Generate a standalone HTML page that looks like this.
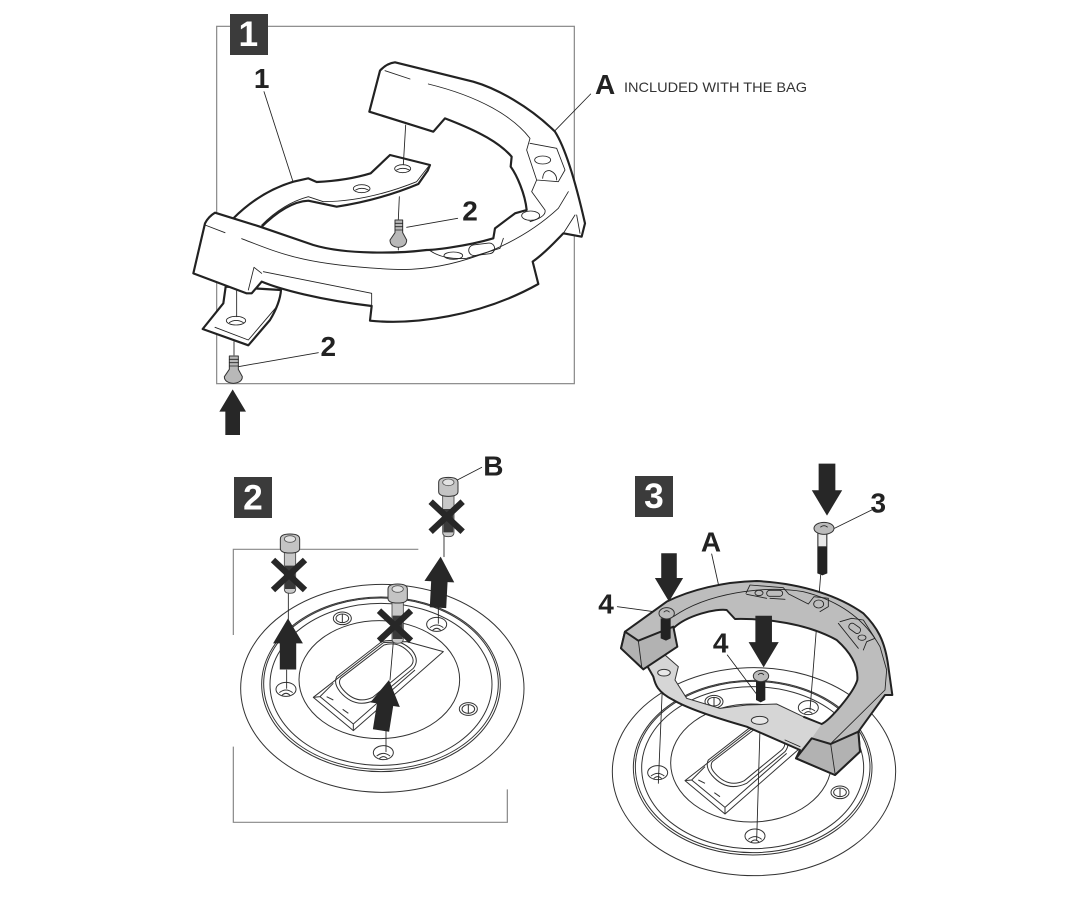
<!DOCTYPE html>
<html><head><meta charset="utf-8">
<style>
html,body{margin:0;padding:0;background:#fff}
svg{display:block}
text{font-family:"Liberation Sans",sans-serif;font-weight:bold;fill:#222}
.t{fill:none;stroke:#222;stroke-width:2.6;stroke-linejoin:round;stroke-linecap:round}
.o{stroke:#222;stroke-width:6.5;stroke-linejoin:round;fill:#fff}
.f{fill:none;stroke:#888;stroke-width:3.6}
.e{fill:none;stroke:#333;stroke-width:3}
.b{fill:#3b3b3b}
.n{fill:#fff;text-anchor:middle}
</style></head><body>
<svg width="1080" height="909" viewBox="0 0 1080 909" xmlns="http://www.w3.org/2000/svg">
<defs>
<path id="up" fill="#272727" d="M0 0L40 67H22V137H-22V67H-40Z"/>
<g id="sock">
<path d="M-17 50H17V165Q17 178 0 178Q-17 178-17 165Z" fill="#c8c8c8" stroke="#444" stroke-width="2.5"/>
<path d="M-15 95H15V165H-15Z" fill="#3a3a3a"/>
<path d="M-29 15Q-29 0 0 0Q29 0 29 15V43Q29 57 0 57Q-29 57-29 43Z" fill="#c4c4c4" stroke="#333" stroke-width="3"/>
<ellipse cx="0" cy="15" rx="17" ry="10" fill="#e2e2e2" stroke="#555" stroke-width="2.5"/>
</g>
<path id="x" stroke="#272727" stroke-width="19" fill="none" d="M-48-45L48 45M48-45L-48 45"/>
<g id="hole" fill="#fff" stroke="#333" stroke-width="3"><ellipse rx="30" ry="21"/><path d="M-20 10Q0-6 20 10M-12 18Q0 6 12 18" fill="none"/></g>
<g id="bolt" fill="#fff" stroke="#333" stroke-width="3"><ellipse rx="27" ry="19"/><ellipse rx="19" ry="13"/><path d="M0-13V13" /></g>
<g id="tank">
<ellipse class="e" cx="487" cy="715" rx="425" ry="312"/>
<ellipse class="e" cx="483" cy="703" rx="358" ry="262"/>
<ellipse class="e" cx="483" cy="701" rx="352" ry="257"/>
<ellipse class="e" cx="483" cy="703" rx="333" ry="243"/>
<ellipse class="e" cx="478" cy="689" rx="241" ry="177"/>
<path fill="#fff" stroke="#333" stroke-width="3" stroke-linejoin="round" d="M280 742L490 578L560 575L670 605L400 842Z"/>
<path class="e" d="M350 680L485 575Q535 562 575 600Q600 630 580 655L465 750Q405 778 360 725Q340 700 350 680Z"/>
<path class="e" d="M362 685L492 585Q535 572 567 607Q590 632 570 650L458 742Q410 765 370 720Q352 700 362 685Z"/>
<path class="e" d="M280 742L300 740L340 700M300 740L400 822L585 660M400 822V842"/>
<path class="e" d="M320 740L340 750M368 778L385 790"/>
<use href="#hole" x="198" y="718"/><use href="#hole" x="490" y="908"/><use href="#hole" x="650" y="523"/>
<use href="#bolt" x="367" y="505"/><use href="#bolt" x="745" y="777"/>
</g>
</defs>

<!-- Panel 1 -->
<g transform="translate(180,10) scale(.33333)">
<rect class="f" x="110" y="49" width="1073" height="1072"/>
<rect class="b" x="150" y="12" width="114" height="123"/>
<text class="n" x="205" y="108" font-size="106">1</text>
<path class="t" d="M252 245L338 512M658 560L655 628M1122 365L1232 252M162 995V1035"/>
<!-- back plate -->
<path class="o" d="M160 625Q240 545 340 515L385 505L410 516Q500 512 572 490L630 435L750 465L743 482L715 522Q600 570 470 590L385 572Q320 575 240 655Z"/>
<path class="t" d="M245 645Q310 580 385 560L430 575Q560 575 710 515L745 470"/>
<ellipse class="t" cx="668" cy="476" rx="24" ry="12"/><path class="t" d="M650 480Q668 470 688 480"/>
<ellipse class="t" cx="545" cy="536" rx="25" ry="12"/><path class="t" d="M527 540Q545 530 565 540"/>
<path class="t" d="M677 345L670 464"/>
<!-- lower left plate -->
<path class="o" d="M137 830L130 880L68 957L205 1006L270 930Q300 880 303 840Z"/>
<path class="t" d="M105 952L205 990L290 890"/>
<ellipse class="t" cx="168" cy="932" rx="29" ry="13"/><path class="t" d="M148 938Q168 925 190 938"/>
<path class="t" d="M170 840V920"/>
<!-- ring -->
<path class="o" d="M105 608Q85 620 75 640L40 790L200 850H215L245 815C300 838 420 870 575 888L570 932C700 945 900 920 1075 822L1058 755C1100 725 1130 690 1150 670L1205 680L1215 640C1190 530 1160 420 1125 365C1050 290 950 235 880 215L645 157Q620 160 600 182L568 305L760 365L795 325C900 365 960 400 995 440L992 470C1010 495 1035 550 1040 600L1005 610L945 655L940 685C850 712 750 720 740 720C660 730 500 735 400 705L240 650Z"/>
<path class="t" d="M75 645L135 668M185 686C300 730 370 765 640 778C800 785 1000 720 1135 595L1165 545M615 182L690 207M745 222C900 260 1000 320 1050 385L1040 420L1070 510L1055 545L1095 600Q1100 620 1050 635M1050 400L1130 415L1155 480L1135 515L1070 510M250 785L575 850V888M222 772L245 790M222 772L205 840M1185 615L1150 670M1190 615L1200 670"/>
<ellipse class="t" cx="1088" cy="450" rx="24" ry="12"/>
<path class="t" d="M1088 505Q1090 480 1110 482Q1130 490 1130 510"/>
<ellipse class="t" cx="1052" cy="617" rx="27" ry="14"/>
<rect class="t" x="866" y="702" width="78" height="32" rx="16" transform="rotate(-7 905 718)"/>
<ellipse class="t" cx="820" cy="737" rx="28" ry="11"/>
<path class="t" d="M750 722Q790 750 860 745L960 715L970 685"/>
<!-- screws -->
<path class="t" d="M680 652L833 625M175 1070L415 1028M655 705V720"/>
<g fill="#b8b8b8" stroke="#333" stroke-width="3" stroke-linejoin="round">
<path d="M645 630H668V668L680 690Q680 710 655 712Q630 710 630 690L645 668Z"/>
<path d="M148 1038H175V1078L187 1100Q187 1118 160 1120Q133 1118 133 1100L148 1078Z"/>
</g>
<path class="t" d="M645 640H668M645 650H668M645 660H668M148 1048H175M148 1058H175M148 1068H175"/>
<text x="870" y="632" font-size="84" text-anchor="middle">2</text>
<text x="445" y="1038" font-size="84" text-anchor="middle">2</text>
<text x="245" y="234" font-size="84" text-anchor="middle">1</text>
<use href="#up" x="158" y="1138"/>
</g>
<text x="595" y="94" font-size="28">A</text>
<text x="624" y="92" font-size="14" textLength="183" lengthAdjust="spacingAndGlyphs" style="font-weight:normal;fill:#333">INCLUDED WITH THE BAG</text>

<!-- Panel 2 -->
<g transform="translate(220,450) scale(.33333)">
<path class="f" d="M40 555V298H595M40 890V1117H862V1018"/>
<rect class="b" x="42" y="81" width="114" height="123"/>
<text class="n" x="99" y="178" font-size="106">2</text>
<use href="#tank"/>
<path class="t" d="M205 430V510M200 660V715M520 575L510 690M498 840V905M672 255V320M655 470V520M712 90L785 52"/>
<use href="#sock" x="210" y="252"/><use href="#x" x="207" y="375"/>
<use href="#sock" x="685" y="82"/><use href="#x" x="680" y="200"/>
<use href="#sock" x="533" y="402"/><use href="#x" x="525" y="527"/>
<use href="#up" transform="translate(204,505) scale(1.12)"/>
<use href="#up" transform="translate(662,320) rotate(3) scale(1.12)"/>
<use href="#up" transform="translate(507,690) rotate(9) scale(1.12)"/>
<text x="820" y="76" font-size="84" text-anchor="middle">B</text>
</g>

<!-- Panel 3 -->
<g transform="translate(590,450) scale(.33333)">
<use href="#tank" transform="translate(5,250)"/>
<rect class="b" x="135" y="78" width="114" height="123"/>
<text class="n" x="192" y="174" font-size="106">3</text>
<path class="t" d="M205 1000L218 690M500 1170L510 835M660 780L692 375M365 312L385 402M82 470L205 487M412 615L498 730M733 235L845 180"/>
<!-- ring -->
<path id="r" fill="#bdbdbd" fill-rule="evenodd" d="M105 545L93 595L160 658L170 645L190 680C195 700 200 725 250 750C300 780 400 810 470 830L630 900L618 925L735 975L810 905L805 845L845 790L885 735L907 735L895 650C885 570 860 530 820 490C750 440 640 400 500 393C400 395 300 420 230 455Z M250 535C290 495 380 475 410 480L435 507C530 505 650 520 740 570C785 610 805 650 802 690C790 730 720 810 695 822L640 800L560 762L470 765L390 775L290 745L255 690L265 650L225 615L262 590Z"/>
<path fill="#d6d6d6" d="M170 645L225 615L265 650L255 690L290 745L390 775L470 765L560 762L640 800L695 822L665 865L630 900L470 830C400 810 300 780 250 750C200 725 195 700 190 680Z"/>
<path fill="none" stroke="#222" stroke-width="6" stroke-linejoin="round" d="M105 545L93 595L160 658L170 645L190 680C195 700 200 725 250 750C300 780 400 810 470 830L630 900L618 925L735 975L810 905L805 845L845 790L885 735L907 735L895 650C885 570 860 530 820 490C750 440 640 400 500 393C400 395 300 420 230 455Z M250 535C290 495 380 475 410 480L435 507C530 505 650 520 740 570C785 610 805 650 802 690C790 730 720 810 695 822L640 800"/>
<path fill="none" stroke="#333" stroke-width="3" d="M640 800L560 762L470 765L390 775L290 745L255 690L265 650L225 615L262 590"/>
<path fill="#b2b2b2" stroke="#222" stroke-width="6" stroke-linejoin="round" d="M105 545L145 572L250 530L262 590L160 658L93 595Z"/>
<path fill="#b2b2b2" stroke="#222" stroke-width="6" stroke-linejoin="round" d="M665 865L722 882L805 845L810 905L735 975L618 925Z"/>
<path class="t" d="M145 572L155 650M722 882L735 970M250 500C350 430 520 405 640 425C740 450 820 500 870 590L890 660L885 720M885 720L725 878M585 870L630 890"/>
<path class="t" d="M468 430L480 405L580 413L596 432L655 462L672 440L715 445L715 470L690 485M470 433L530 445M540 445L585 448M750 515L785 505L820 510L855 565L830 575L820 600M745 520L805 595"/>
<rect class="t" x="530" y="421" width="48" height="18" rx="9"/>
<ellipse class="t" cx="507" cy="429" rx="12" ry="8"/>
<rect class="t" x="775" y="525" width="38" height="20" rx="9" transform="rotate(35 794 535)"/>
<ellipse class="t" cx="816" cy="563" rx="12" ry="8"/>
<ellipse class="t" cx="686" cy="462" rx="15" ry="12"/>
<ellipse cx="222" cy="668" rx="19" ry="10" fill="#e8e8e8" stroke="#333" stroke-width="3"/>
<ellipse cx="509" cy="811" rx="25" ry="12" fill="#e8e8e8" stroke="#333" stroke-width="3"/>
<!-- screws -->
<path d="M212 505H242V565L228 572L212 565Z" fill="#222"/>
<path d="M498 690H526V750L512 757L498 750Z" fill="#222"/>
<path d="M682 250H712V370L697 376L682 370Z" fill="#222"/>
<path d="M684 245H710V290H684Z" fill="#e8e8e8" stroke="#333" stroke-width="2.5"/>
<g fill="#bbb" stroke="#333" stroke-width="3">
<ellipse cx="230" cy="490" rx="23" ry="17"/><ellipse cx="513" cy="678" rx="23" ry="17"/><ellipse cx="702" cy="235" rx="30" ry="18"/>
</g>
<path class="t" d="M222 486Q230 478 238 486M505 674Q513 666 521 674M692 231Q702 223 712 231"/>
<use href="#up" transform="translate(237,455) rotate(180) scale(1.06)"/>
<use href="#up" transform="translate(521,652) rotate(180) scale(1.13)"/>
<use href="#up" transform="translate(711,197) rotate(180) scale(1.14)"/>
<text x="363" y="305" font-size="84" text-anchor="middle">A</text>
<text x="48" y="490" font-size="84" text-anchor="middle">4</text>
<text x="392" y="607" font-size="84" text-anchor="middle">4</text>
<text x="865" y="188" font-size="84" text-anchor="middle">3</text>
</g>
</svg>
</body></html>
